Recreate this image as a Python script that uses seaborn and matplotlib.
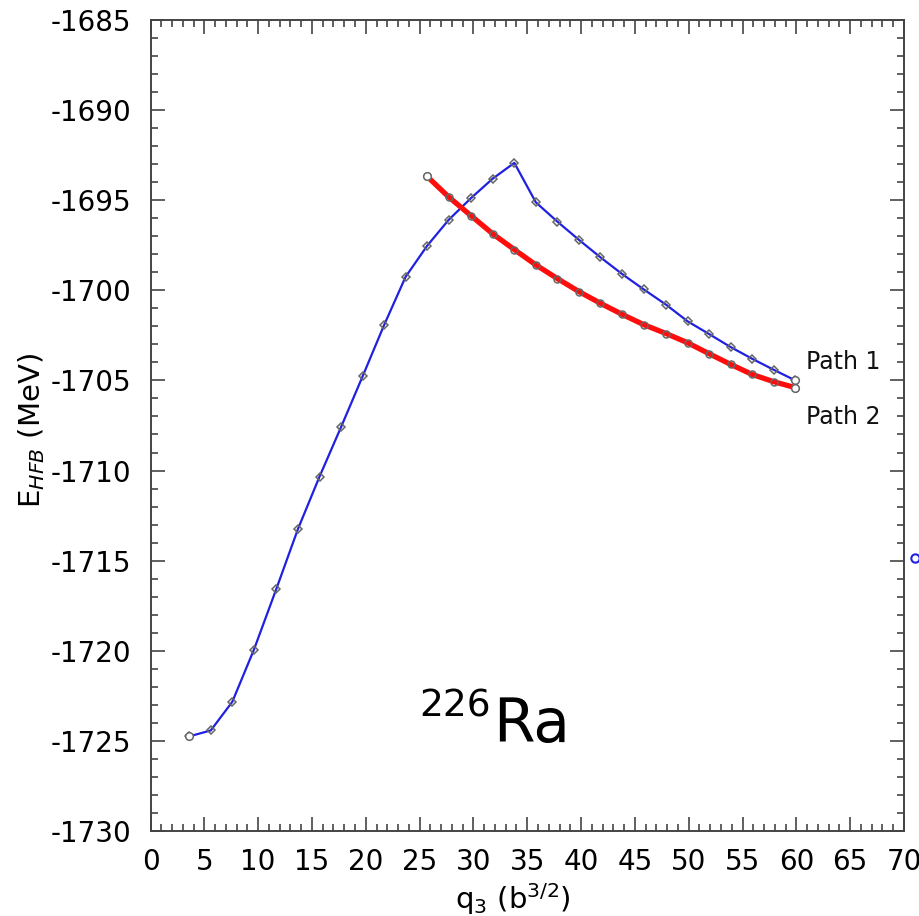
import matplotlib
matplotlib.use("Agg")
import matplotlib.pyplot as plt
from matplotlib.ticker import MultipleLocator
import seaborn as sns
import numpy as np

# Path 1 (blue) and Path 2 (red) HFB energies vs octupole moment q3
q3_path1 = [3.6, 5.6, 7.6, 9.6, 11.7, 13.7, 15.7, 17.7, 19.7, 21.7, 23.7, 25.7,
            27.7, 29.8, 31.8, 33.8, 35.8, 37.8, 39.8, 41.8, 43.8, 45.8, 47.9,
            49.9, 51.9, 53.9, 55.9, 57.9, 59.9]
e_path1 = [-1724.75, -1724.42, -1722.83, -1719.95, -1716.55, -1713.24, -1710.34,
           -1707.59, -1704.78, -1701.93, -1699.25, -1697.53, -1696.09, -1694.87,
           -1693.80, -1692.93, -1695.12, -1696.19, -1697.20, -1698.17, -1699.09,
           -1699.94, -1700.80, -1701.72, -1702.43, -1703.15, -1703.80, -1704.41,
           -1705.00]

q3_path2 = [25.7, 27.7, 29.8, 31.8, 33.8, 35.8, 37.8, 39.8, 41.8, 43.8, 45.8,
            47.9, 49.9, 51.9, 53.9, 55.9, 57.9, 59.9]
e_path2 = [-1693.68, -1694.82, -1695.87, -1696.87, -1697.74, -1698.59, -1699.35,
           -1700.07, -1700.72, -1701.33, -1701.90, -1702.40, -1702.91, -1703.52,
           -1704.11, -1704.67, -1705.07, -1705.40]

# stray symbol sitting just outside the right frame
q3_stray = [71.05]
e_stray = [-1714.86]

path_labels = ["Path 1", "Path 2"]
label_q3 = [60.9, 60.9]
label_e = [-1704.0, -1707.05]

sns.set_style("ticks")
plt.rcParams['font.family'] = ['DejaVu Sans']
plt.rcParams['mathtext.fontset'] = 'dejavusans'
plt.rcParams['axes.unicode_minus'] = False

fig = plt.figure(figsize=(9.2, 9.16), dpi=100)
ax = fig.add_axes([0.1636, 0.0928, 0.819, 0.8854])

blue = '#2020e0'
red = '#ff0d0d'
edge = '#666666'

sns.lineplot(x=q3_path1, y=e_path1, ax=ax, color=blue, linewidth=1.6,
             marker='D', markersize=4.5, markerfacecolor='none',
             markeredgecolor=edge, markeredgewidth=1.1, estimator=None)
sns.lineplot(x=q3_path2, y=e_path2, ax=ax, color=red, linewidth=3.8,
             marker='o', markersize=5, markerfacecolor='none',
             markeredgecolor=edge, markeredgewidth=1.1, estimator=None)

# open end-point symbols
ends_x = [q3_path1[0], q3_path1[-1], q3_path2[0], q3_path2[-1]]
ends_y = [e_path1[0], e_path1[-1], e_path2[0], e_path2[-1]]
ax.plot(ends_x, ends_y, linestyle='none', marker='o', markersize=5.5,
        markerfacecolor='white', markeredgecolor=edge, markeredgewidth=1.1,
        zorder=5)
ax.plot(q3_stray, e_stray, linestyle='none', marker='o', markersize=6,
        markerfacecolor='none', markeredgecolor=blue, markeredgewidth=1.5,
        clip_on=False)

for lab, xq, ye in zip(path_labels, label_q3, label_e):
    ax.text(xq, ye, lab, fontsize=17, ha='left', va='center', color='#111111')

ax.text(31.65, -1723.66, '226', fontsize=27, ha='right', va='baseline',
        color='black')
ax.text(31.8, -1725.05, 'Ra', fontsize=43, ha='left', va='baseline',
        color='black')

ax.set_xlim(0, 70)
ax.set_ylim(-1730, -1685)
ax.xaxis.set_major_locator(MultipleLocator(5))
ax.xaxis.set_minor_locator(MultipleLocator(1))
ax.yaxis.set_major_locator(MultipleLocator(5))
ax.yaxis.set_minor_locator(MultipleLocator(1))
ax.tick_params(which='both', direction='in', top=True, right=True,
               color='#444444', width=1.2, labelcolor='black')
ax.tick_params(which='major', length=10, labelsize=20)
ax.tick_params(axis='y', which='major', pad=14)
ax.tick_params(axis='x', which='major', pad=12)
ax.tick_params(which='minor', length=5)
for s in ax.spines.values():
    s.set_color('#444444')
    s.set_linewidth(1.4)

ax.set_xlabel(r'q$_3$ (b$^{3/2}$)', fontsize=21, color='black')
ax.set_ylabel(r'E$_{HFB}$ (MeV)', fontsize=21, color='black')
ax.xaxis.set_label_coords(0.481, -0.062)
ax.yaxis.set_label_coords(-0.138, 0.494)

fig.savefig('out.png', dpi=100)
